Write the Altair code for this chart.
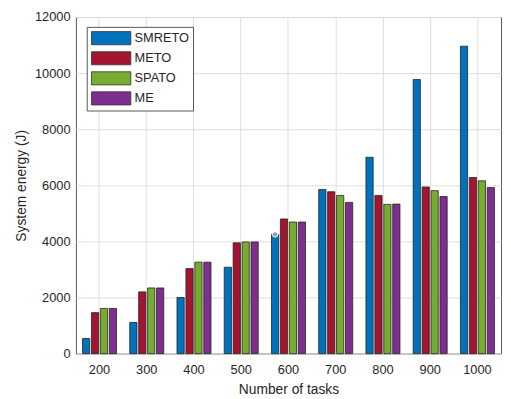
import altair as alt
import pandas as pd

tasks = ["200", "300", "400", "500", "600", "700", "800", "900", "1000"]
series = ["SMRETO", "METO", "SPATO", "ME"]
colors = ["#0072BD", "#A2142F", "#77AC30", "#7E2F8E"]
smreto = [540, 1110, 2000, 3080, 4250, 5850, 7000, 9770, 10960]
meto = [1460, 2200, 3030, 3950, 4800, 5770, 5640, 5940, 6280]
spato = [1610, 2340, 3260, 3980, 4690, 5640, 5320, 5810, 6160]
me = [1610, 2340, 3260, 3980, 4690, 5390, 5330, 5600, 5920]
y_ticks = [0, 2000, 4000, 6000, 8000, 10000, 12000]
marker_task = ["600"]
marker_value = [4250]

rows = []
for name, vals in zip(series, [smreto, meto, spato, me]):
    for t, v in zip(tasks, vals):
        rows.append({"tasks": t, "method": name, "energy": v})
df = pd.DataFrame(rows)
mk = pd.DataFrame({"tasks": marker_task, "method": ["SMRETO"], "energy": marker_value})

FONT = "Liberation Sans"
TXT = "#262626"

x_enc = alt.X("tasks:N", sort=tasks,
              scale=alt.Scale(paddingInner=0.28, paddingOuter=0.14),
              axis=alt.Axis(title="Number of tasks", labelAngle=0, ticks=False,
                            labelPadding=10, bandPosition=0.5, grid=True,
                            domain=False, titlePadding=7))
xo_enc = alt.XOffset("method:N", sort=series, scale=alt.Scale(paddingInner=0.19))
y_enc = alt.Y("energy:Q", scale=alt.Scale(domain=[0, 12000], nice=False),
              axis=alt.Axis(title="System energy (J)", values=y_ticks, ticks=False,
                            format="d", labelPadding=6, domain=False, titlePadding=6))

bars = alt.Chart(df).mark_bar(stroke="#222222", strokeWidth=0.8).encode(
    x=x_enc,
    xOffset=xo_enc,
    y=y_enc,
    color=alt.Color("method:N", sort=series,
                    scale=alt.Scale(domain=series, range=colors),
                    legend=alt.Legend(title=None, orient="none", legendX=11, legendY=10,
                                      symbolType="M-3,-1H3V1H-3Z", symbolSize=178,
                                      symbolStrokeColor="#333333", symbolStrokeWidth=0.8,
                                      symbolOffset=13.3, labelOffset=16.3,
                                      rowPadding=3.4, padding=4,
                                      strokeColor="#555555", fillColor="white",
                                      labelFontSize=13, labelFont=FONT, labelColor=TXT)),
)

marker = alt.Chart(mk).mark_point(filled=True, fill="#9a9a9a", stroke="white",
                                  strokeWidth=1, size=30, opacity=1).encode(
    x=alt.X("tasks:N", sort=tasks),
    xOffset=alt.XOffset("method:N", sort=series),
    y=alt.Y("energy:Q"),
)

chart = alt.layer(bars, marker).properties(
    width=432, height=342,
    autosize=alt.AutoSizeParams(type="none"),
    padding={"left": 69, "top": 6, "right": 2, "bottom": 45},
).configure_view(stroke="#555555", strokeWidth=1).configure_axis(
    labelFont=FONT, titleFont=FONT, labelFontSize=13, titleFontSize=14,
    labelColor=TXT, titleColor=TXT, titleFontWeight="normal",
    gridColor="#dedede", gridWidth=1,
)

chart.save("out.html", embed_options={"renderer": "svg", "actions": False})
